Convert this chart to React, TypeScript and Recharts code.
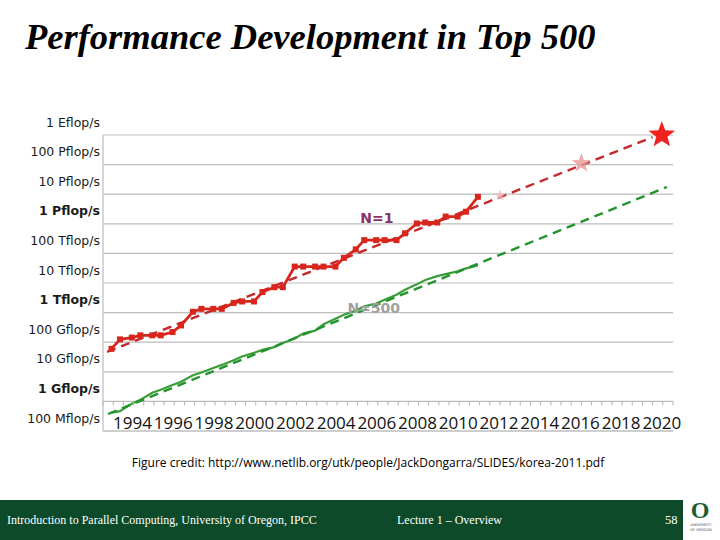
import React from 'react';
import { ComposedChart, Line, Scatter, XAxis, YAxis, CartesianGrid, ReferenceDot } from 'recharts';

// ---- data (Top500 lists, values in Gflop/s) ----
const listDates = [
  '1993-06', '1993-11', '1994-06', '1994-11', '1995-06', '1995-11', '1996-06', '1996-11',
  '1997-06', '1997-11', '1998-06', '1998-11', '1999-06', '1999-11', '2000-06', '2000-11',
  '2001-06', '2001-11', '2002-06', '2002-11', '2003-06', '2003-11', '2004-06', '2004-11',
  '2005-06', '2005-11', '2006-06', '2006-11', '2007-06', '2007-11', '2008-06', '2008-11',
  '2009-06', '2009-11', '2010-06', '2010-11', '2011-06',
];
const n1Gflops = [
  59.7, 124.5, 143.4, 170.4, 170.4, 170.4, 220.4, 368.2,
  1068, 1338, 1338, 1338, 2121, 2379, 2379, 4938,
  7226, 7226, 35860, 35860, 35860, 35860, 35860, 70720,
  136800, 280600, 280600, 280600, 280600, 478200, 1026000, 1105000,
  1105000, 1759000, 1759000, 2566000, 8162000,
];
const n500Gflops = [
  0.42, 0.47, 0.84, 1.13, 1.96, 2.49, 3.56, 4.62,
  7.67, 9.51, 13.4, 17.1, 24.7, 33.1, 43.8, 55.1,
  67.8, 94.3, 134.3, 195.8, 245.1, 403.4, 624, 850.6,
  1166, 1646, 2026, 2737, 4005, 5929, 9000, 12640,
  17090, 20050, 24670, 31120, 39090,
];
// trend (projection) lines: start / end
const n1TrendYears = [1993.2, 2020.0];
const n1TrendGflops = [47, 8.5e8];
const n500TrendYears = [1993.25, 2020.7];
const n500TrendGflops = [0.375, 1.75e7];
// projected milestones (stars)
const starYears = [2012.5, 2016.5, 2020.45];
const starGflops = [9e6, 1.1e8, 1e9];

// axes
const yTickValues = [0.1, 1, 10, 100, 1e3, 1e4, 1e5, 1e6, 1e7, 1e8, 1e9];
const yTickLabels = [
  '100 Mflop/s', '1 Gflop/s', '10 Gflop/s', '100 Gflop/s', '1 Tflop/s', '10 Tflop/s',
  '100 Tflop/s', '1 Pflop/s', '10 Pflop/s', '100 Pflop/s', '1 Eflop/s',
];
const yearLabels = [1994, 1996, 1998, 2000, 2002, 2004, 2006, 2008, 2010, 2012, 2014, 2016, 2018, 2020];
const xDomain = [1993, 2021];

// ---- layout ----
const W = 720;
const H = 540;
const PLOT_LEFT = 103;
const PLOT_RIGHT = 673;
const PLOT_TOP = 135;
const PLOT_BOTTOM = 431;
const X_AXIS_H = 30;
const DECADE_PX = (PLOT_BOTTOM - PLOT_TOP) / (yTickValues.length - 1);

const toYear = (d: string) => {
  const [y, m] = d.split('-').map(Number);
  return y + (m - 1) / 12;
};

const n1Data = listDates.map((d, i) => ({ x: toYear(d), v: n1Gflops[i] }));
const n500Data = listDates.map((d, i) => ({ x: toYear(d), v: n500Gflops[i] }));
const n1Trend = n1TrendYears.map((x, i) => ({ x, v: n1TrendGflops[i] }));
const n500Trend = n500TrendYears.map((x, i) => ({ x, v: n500TrendGflops[i] }));
const stars = starYears.map((x, i) => ({ x, v: starGflops[i] }));

// half-year ticks along the time axis; even years get a label centred in their year
const xTicks: number[] = [];
for (let t = xDomain[0]; t <= xDomain[1]; t += 0.5) xTicks.push(t);

const starPath = (cx: number, cy: number, R: number) => {
  const r = R * 0.42;
  const pts: string[] = [];
  for (let k = 0; k < 10; k++) {
    const rad = k % 2 === 0 ? R : r;
    const a = -Math.PI / 2 + (k * Math.PI) / 5;
    pts.push(`${cx + rad * Math.cos(a)},${cy + rad * Math.sin(a)}`);
  }
  return pts.join(' ');
};

const makeStar = (R: number, fill: string, opacity: number) => (props: any) => {
  const { cx, cy } = props;
  if (cx == null || cy == null) return <g />;
  return <polygon points={starPath(cx, cy, R)} fill={fill} fillOpacity={opacity} />;
};

const XTick = (props: any) => {
  const { x, y, payload } = props;
  const v = payload.value as number;
  const year = Math.floor(v);
  const showLabel = v - year === 0.5 && yearLabels.includes(year);
  return (
    <g>
      <line x1={x} x2={x} y1={y - DECADE_PX} y2={y - DECADE_PX + 4} stroke="#b5b5b5" strokeWidth={1} />
      {showLabel && (
        <text
          x={x - 1}
          y={y}
          dy={-2}
          textAnchor="middle"
          fontFamily="'Open Sans', sans-serif"
          fontSize={17}
          fill="#111111"
        >
          {year}
        </text>
      )}
    </g>
  );
};

const YTick = (props: any) => {
  const { x, y, payload } = props;
  const idx = yTickValues.indexOf(payload.value);
  const label = yTickLabels[idx] ?? '';
  const bold = label.startsWith('1 ') && !label.startsWith('1 E');
  return (
    <text
      x={x}
      y={y}
      dy={-8.5}
      textAnchor="end"
      fontFamily="'DejaVu Sans', sans-serif"
      fontSize={12.5}
      fontWeight={bold ? 'bold' : 'normal'}
      fill="#1a1a1a"
    >
      {label}
    </text>
  );
};

const RedSquare = (props: any) => {
  const { cx, cy } = props;
  if (cx == null || cy == null) return <g key={props.key} />;
  return <rect key={props.key} x={cx - 3} y={cy - 3} width={6} height={6} fill="#d8261d" />;
};

export default function App() {
  return (
    <div style={{ position: 'relative', width: W, height: H, background: '#ffffff', overflow: 'hidden' }}>
      <style>{`body{margin:0;}`}</style>
      <svg width={W} height={H} style={{ position: 'absolute', left: 0, top: 0 }}>
        <text
          x={25}
          y={49}
          fontFamily="'Liberation Serif', 'Times New Roman', serif"
          fontStyle="italic"
          fontWeight="bold"
          fontSize={36.5}
          fill="#000"
        >
          Performance Development in Top 500
        </text>
        <text
          x={368}
          y={467}
          textAnchor="middle"
          fontFamily="'Open Sans', sans-serif"
          fontSize={12}
          fill="#000"
        >
          Figure credit: http://www.netlib.org/utk/people/JackDongarra/SLIDES/korea-2011.pdf
        </text>
        <rect x={0} y={500} width={683} height={40} fill="#0c4a2a" />
        <text x={7} y={524} fontFamily="'Liberation Serif', serif" fontSize={12} fill="#fff">
          Introduction to Parallel Computing, University of Oregon, IPCC
        </text>
        <text x={397} y={524} fontFamily="'Liberation Serif', serif" fontSize={12} fill="#fff">
          Lecture 1 – Overview
        </text>
        <text x={665} y={524} fontFamily="'Liberation Serif', serif" fontSize={12.5} fill="#fff">
          58
        </text>
        <text x={700} y={518} textAnchor="middle" fontFamily="'Liberation Serif', serif" fontWeight="bold" fontSize={24} fill="#1b5e36">
          O
        </text>
        <text x={701} y={526} textAnchor="middle" fontFamily="'DejaVu Sans', sans-serif" fontSize={3.5} fill="#444">
          UNIVERSITY
        </text>
        <text x={701} y={531} textAnchor="middle" fontFamily="'DejaVu Sans', sans-serif" fontSize={3.5} fill="#444">
          OF OREGON
        </text>
      </svg>
      <div style={{ position: 'absolute', left: 0, top: 0 }}>
        <ComposedChart
          width={W}
          height={PLOT_BOTTOM + X_AXIS_H + 20}
          margin={{ top: PLOT_TOP, right: W - PLOT_RIGHT, bottom: 20, left: 0 }}
        >
          <CartesianGrid vertical={false} stroke="#bdbdbd" strokeWidth={1.2} />
          <XAxis
            dataKey="x"
            type="number"
            domain={xDomain}
            ticks={xTicks}
            interval={0}
            height={X_AXIS_H}
            tickSize={0}
            tickMargin={0}
            tickLine={false}
            axisLine={{ stroke: '#bdbdbd', strokeWidth: 1.2 }}
            tick={<XTick />}
            allowDecimals
          />
          <YAxis
            dataKey="v"
            type="number"
            scale="log"
            domain={[0.1, 1e9]}
            ticks={yTickValues}
            interval={0}
            width={PLOT_LEFT}
            tickSize={0}
            tickMargin={3}
            tickLine={false}
            axisLine={{ stroke: '#c8c8c8', strokeWidth: 1.5 }}
            tick={<YTick />}
          />
          <ReferenceDot
            x={2006.3}
            y={1.43e3}
            r={0}
            fill="none"
            stroke="none"
            label={{ value: 'N=500', position: 'center', fill: '#a0a0a0', fontSize: 14, fontWeight: 'bold', fontFamily: "'DejaVu Sans', sans-serif" }}
          />
          <ReferenceDot
            x={2006.45}
            y={1.57e6}
            r={0}
            fill="none"
            stroke="none"
            label={{ value: 'N=1', position: 'center', fill: '#8a3266', fontSize: 14, fontWeight: 'bold', fontFamily: "'DejaVu Sans', sans-serif" }}
          />
          <Line
            data={n500Data}
            dataKey="v"
            type="linear"
            stroke="#3a9e38"
            strokeWidth={2.2}
            dot={false}
            isAnimationActive={false}
          />
          <Line
            data={n500Trend}
            dataKey="v"
            type="linear"
            stroke="#23932f"
            strokeWidth={2.4}
            strokeDasharray="9 6"
            dot={false}
            isAnimationActive={false}
          />
          <Line
            data={n1Trend}
            dataKey="v"
            type="linear"
            stroke="#c4272c"
            strokeWidth={2.4}
            strokeDasharray="9 6"
            dot={false}
            isAnimationActive={false}
          />
          <Line
            data={n1Data}
            dataKey="v"
            type="linear"
            stroke="#d8261d"
            strokeWidth={2.8}
            dot={<RedSquare />}
            isAnimationActive={false}
          />
          <Scatter data={[stars[0]]} dataKey="v" shape={makeStar(6, '#f2b8b8', 0.8)} isAnimationActive={false} />
          <Scatter data={[stars[1]]} dataKey="v" shape={makeStar(10, '#eb9a9a', 0.8)} isAnimationActive={false} />
          <Scatter data={[stars[2]]} dataKey="v" shape={makeStar(14, '#ee2320', 1)} isAnimationActive={false} />
        </ComposedChart>
      </div>
    </div>
  );
}
